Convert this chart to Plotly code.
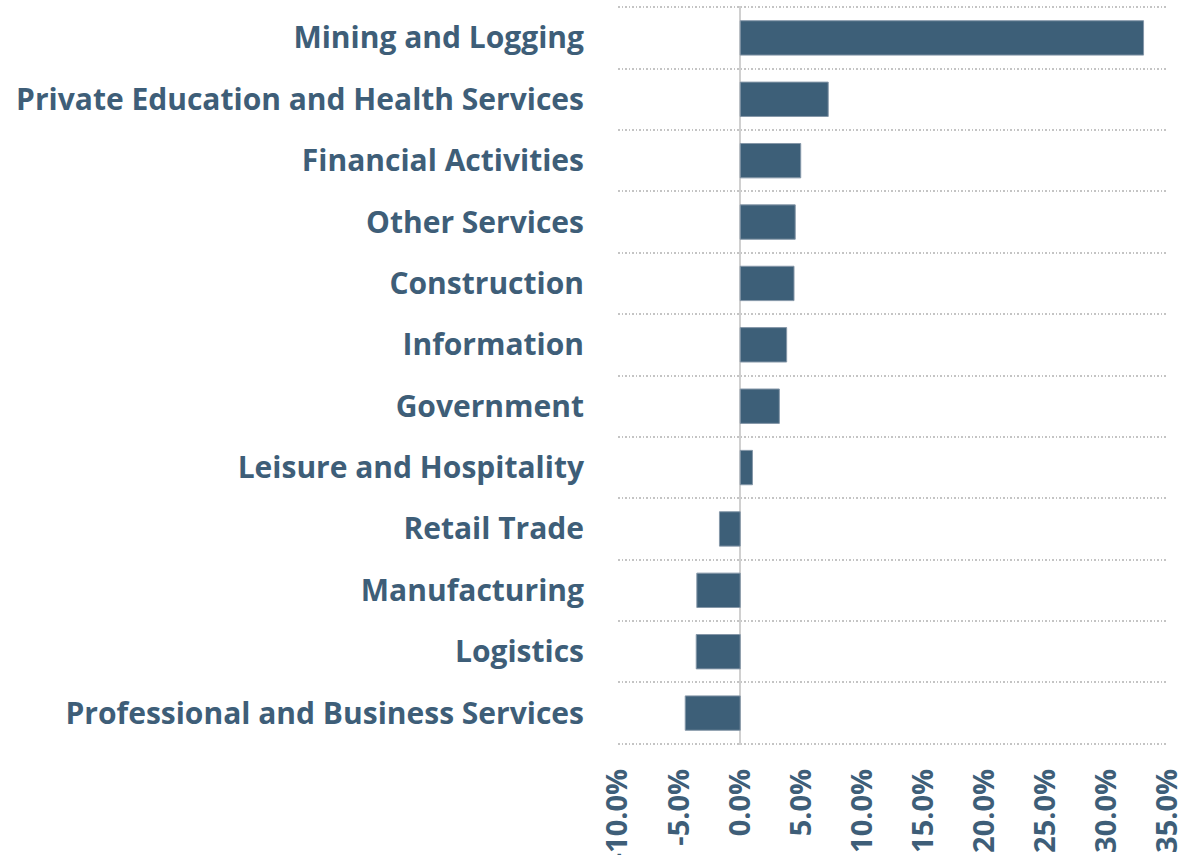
import plotly.graph_objects as go

categories = [
    "Mining and Logging",
    "Private Education and Health Services",
    "Financial Activities",
    "Other Services",
    "Construction",
    "Information",
    "Government",
    "Leisure and Hospitality",
    "Retail Trade",
    "Manufacturing",
    "Logistics",
    "Professional and Business Services",
]
values = [33.0, 7.2, 4.95, 4.5, 4.4, 3.8, 3.2, 1.0, -1.7, -3.55, -3.6, -4.5]
x_ticks = [-10, -5, 0, 5, 10, 15, 20, 25, 30, 35]

positions = list(range(len(categories)))
boundaries = [p - 0.5 for p in positions] + [positions[-1] + 0.5]

TEXT = "#3e5e78"
BAR = "#3d5f78"
FONT = "Open Sans"

fig = go.Figure(
    go.Bar(
        x=values,
        y=positions,
        orientation="h",
        width=0.56,
        marker=dict(color=BAR, line=dict(color="#8597a8", width=1)),
    )
)

fig.update_layout(
    width=1188,
    height=855,
    margin=dict(l=618, r=20, t=6, b=110),
    plot_bgcolor="white",
    paper_bgcolor="white",
    showlegend=False,
    font=dict(family=FONT, color=TEXT),
    xaxis=dict(
        range=[-10, 35],
        tickvals=x_ticks,
        ticktext=[f"{v:.1f}%" for v in x_ticks],
        tickangle=-90,
        tickfont=dict(size=29, family=FONT, color=TEXT, weight="bold"),
        showgrid=False,
        zeroline=True,
        zerolinecolor="#d0d0d0",
        zerolinewidth=2,
        showline=False,
        ticks="",
        ticklabelstandoff=17,
        automargin=False,
    ),
    yaxis=dict(
        range=[len(categories) - 0.5 + 0.02, -0.5 - 0.02],
        tickvals=positions,
        ticktext=categories,
        tickfont=dict(size=30, family=FONT, color=TEXT, weight="bold"),
        showgrid=False,
        zeroline=False,
        showline=False,
        ticks="",
        ticklabelstandoff=33,
        automargin=False,
        minor=dict(
            tickvals=boundaries,
            showgrid=True,
            gridcolor="#c4c4c4",
            gridwidth=1.5,
            griddash="1.5px,2px",
            ticks="",
        ),
    ),
)

fig.write_html(
    "out.html",
    config={"displayModeBar": False},
    post_script="document.body.style.margin='0';document.body.style.overflow='hidden';",
)
